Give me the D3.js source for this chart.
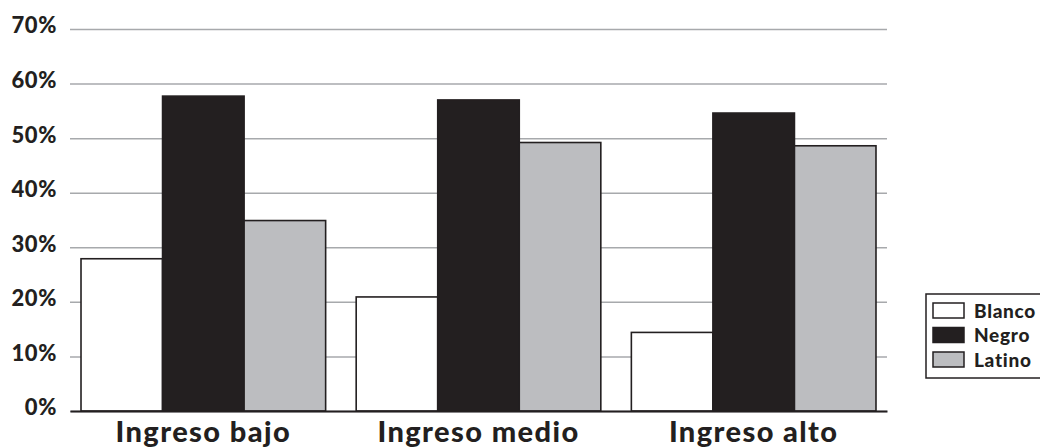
<!DOCTYPE html>
<html>
<head>
<meta charset="utf-8">
<script src="https://cdn.jsdelivr.net/npm/d3@7"></script>
<style>
  html, body { margin: 0; padding: 0; background: #fff; }
  svg { display: block; }
  text { font-family: Lato, "Open Sans", sans-serif; font-weight: 900; fill: #231f20; }
</style>
</head>
<body>
<svg id="chart" width="1040" height="448"></svg>
<script>
// Income groups and the share for each group, in percent
const categories = ["Ingreso bajo", "Ingreso medio", "Ingreso alto"];
const seriesNames = ["Blanco", "Negro", "Latino"];
const blanco = [27.9, 20.9, 14.4];
const negro = [57.7, 57.0, 54.6];
const latino = [34.9, 49.2, 48.6];
const yTicks = [0, 10, 20, 30, 40, 50, 60, 70];

const seriesValues = { Blanco: blanco, Negro: negro, Latino: latino };
const fills = { Blanco: "#ffffff", Negro: "#231f20", Latino: "#bcbdc0" };
const ink = "#231f20";

const svg = d3.select("#chart");
const plot = { left: 70, right: 887, top: 29, bottom: 411 };

const x0 = d3.scaleBand()
  .domain(categories)
  .range([plot.left, plot.right])
  .paddingInner(0.111)
  .paddingOuter(0.04);

const x1 = d3.scaleBand()
  .domain(seriesNames)
  .range([0, x0.bandwidth()])
  .padding(0);

const y = d3.scaleLinear()
  .domain([0, 70])
  .range([plot.bottom, plot.top]);

// Horizontal gridlines with percentage labels
const yAxis = d3.axisLeft(y)
  .tickValues(yTicks)
  .tickSize(-(plot.right - plot.left))
  .tickFormat(d => d + "%")
  .tickPadding(13);

const gy = svg.append("g")
  .attr("transform", `translate(${plot.left},0)`)
  .call(yAxis);
gy.select(".domain").remove();
gy.selectAll(".tick line")
  .attr("stroke", "#a7a9ac")
  .attr("stroke-width", 1.5);
gy.selectAll(".tick text")
  .attr("font-size", 22)
  .attr("dy", "0.18em")
  .attr("letter-spacing", 0.6)
  .style("font-family", "Lato, sans-serif")
  .style("font-weight", 900)
  .attr("fill", ink);

// Bars
const groups = svg.append("g")
  .selectAll("g")
  .data(categories)
  .join("g")
  .attr("transform", d => `translate(${x0(d)},0)`);

groups.selectAll("rect")
  .data((c, i) => seriesNames.map(s => ({ series: s, value: seriesValues[s][i] })))
  .join("rect")
  .attr("x", d => x1(d.series))
  .attr("y", d => y(d.value))
  .attr("width", x1.bandwidth())
  .attr("height", d => y(0) - y(d.value))
  .attr("fill", d => fills[d.series])
  .attr("stroke", ink)
  .attr("stroke-width", 1.6);

// Baseline and category labels
const xAxis = d3.axisBottom(x0).tickSize(0);
const gx = svg.append("g")
  .attr("transform", `translate(0,${plot.bottom})`)
  .call(xAxis);
gx.select(".domain")
  .attr("stroke", ink)
  .attr("stroke-width", 1.8);
gx.selectAll(".tick text")
  .attr("y", 31)
  .attr("dy", 0)
  .attr("font-size", 29)
  .attr("letter-spacing", 1.4)
  .style("font-family", "Lato, sans-serif")
  .style("font-weight", 900)
  .attr("fill", ink);

// Legend
const legend = svg.append("g").attr("transform", "translate(926,294)");
legend.append("rect")
  .attr("x", 0).attr("y", 0)
  .attr("width", 130).attr("height", 84)
  .attr("fill", "#fff")
  .attr("stroke", ink)
  .attr("stroke-width", 1.5);

const items = legend.selectAll("g.item")
  .data(seriesNames)
  .join("g")
  .attr("class", "item")
  .attr("transform", (d, i) => `translate(7,${9 + i * 24.5})`);
items.append("rect")
  .attr("width", 31).attr("height", 15)
  .attr("fill", d => fills[d])
  .attr("stroke", ink)
  .attr("stroke-width", 1.5);
items.append("text")
  .attr("x", 41).attr("y", 14.5)
  .attr("font-size", 19)
  .attr("letter-spacing", 0.7)
  .text(d => d);
</script>
</body>
</html>
